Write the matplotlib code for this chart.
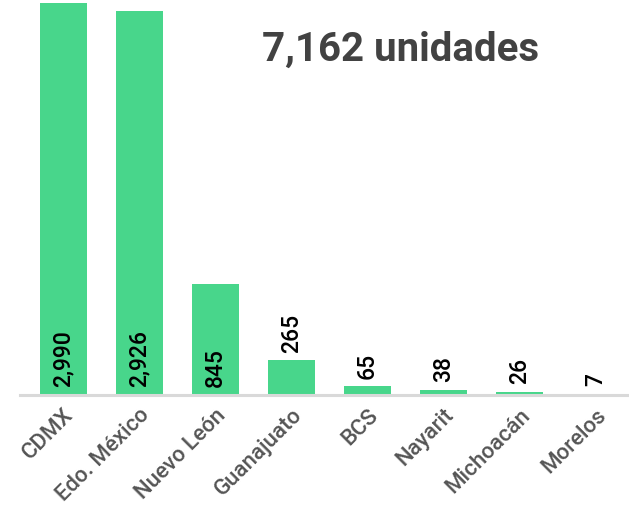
import matplotlib
matplotlib.use("Agg")
import matplotlib.pyplot as plt

states = ["CDMX", "Edo. México", "Nuevo León", "Guanajuato", "BCS",
          "Nayarit", "Michoacán", "Morelos"]
units = [2990, 2926, 845, 265, 65, 38, 26, 7]
total_label = "7,162 unidades"

plt.rcParams["font.family"] = ["Roboto", "DejaVu Sans"]

W, H = 629, 507
fig = plt.figure(figsize=(W / 100, H / 100), dpi=100)
ax = fig.add_axes([20 / W, (H - 395) / H, 609 / W, 395 / H])

x = range(len(states))
bars = ax.bar(x, units, width=0.62, color="#48d68b", zorder=2)
ax.set_xlim(-0.57, 7.44)
ax.set_ylim(0, 3013)

# value labels: inside the base for tall bars, above the bar otherwise
for b, v in zip(bars, units):
    cx = b.get_x() + b.get_width() / 2
    inside = v > 500
    ax.annotate(f"{v:,}", (cx, 0 if inside else v), xytext=(0, 5.5),
                textcoords="offset points", rotation=90, ha="center",
                va="bottom", fontsize=16.5, fontweight="medium", color="black")

ax.set_xticks(list(x))
ax.set_xticklabels(states, rotation=45, ha="right", rotation_mode="anchor",
                   fontsize=16, fontweight="medium", color="#555555")
ax.tick_params(axis="x", length=0, pad=7)
ax.set_yticks([])
for s in ["top", "right", "left"]:
    ax.spines[s].set_visible(False)
ax.spines["bottom"].set_color("#d9d9d9")
ax.spines["bottom"].set_linewidth(2.2)

fig.text(401 / W, 1 - 50 / H, total_label, ha="center", va="center",
         fontsize=29, fontweight="bold", color="#424242")

fig.savefig("out.png", dpi=100)
